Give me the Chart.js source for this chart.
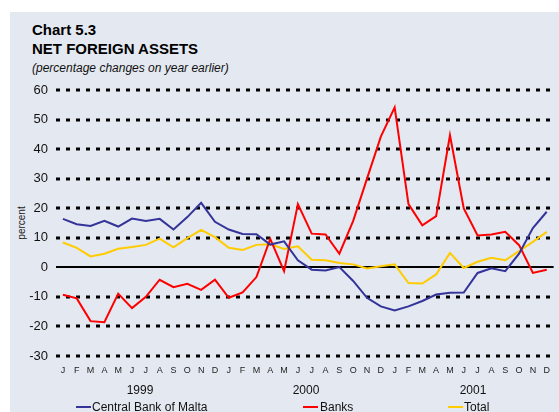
<!DOCTYPE html>
<html>
<head>
<meta charset="utf-8">
<script src="https://cdn.jsdelivr.net/npm/chart.js@4/dist/chart.umd.min.js"></script>
<style>
  body { margin: 0; background: #fff; }
  #wrap { position: relative; width: 559px; height: 412px; overflow: hidden; font-family: "Liberation Sans", Arial, sans-serif; color: #000; }
  #panel { position: absolute; left: 10px; top: 12px; width: 549px; height: 400px; background: #e4e8f0; }
  #chart { position: absolute; left: 0; top: 0; }
  .txt { position: absolute; white-space: nowrap; line-height: 1; }
  .title { left: 32px; font-size: 15px; font-weight: bold; }
  .sub { left: 32px; font-size: 12px; font-style: italic; color: #111; }
  .year { font-size: 12px; width: 60px; text-align: center; color: #111; }
  .leg { font-size: 12px; color: #111; }
  .legline { position: absolute; height: 2px; width: 15px; }
  #percent { left: 22px; top: 223px; font-size: 10px; color: #222; transform: translate(-50%, -50%) rotate(-90deg); }
</style>
</head>
<body>
<div id="wrap">
  <div id="panel"></div>
  <div class="txt title" style="top:22px">Chart 5.3</div>
  <div class="txt title" style="top:41px">NET FOREIGN ASSETS</div>
  <div class="txt sub" style="top:62px">(percentage changes on year earlier)</div>
  <div class="txt" id="percent">percent</div>
  <canvas id="chart" width="559" height="412"></canvas>
  <div class="txt year" style="left:110px;top:384px">1999</div>
  <div class="txt year" style="left:276px;top:384px">2000</div>
  <div class="txt year" style="left:443px;top:384px">2001</div>
  <div class="legline" style="left:76px;top:406px;background:#333399"></div>
  <div class="txt leg" style="left:92px;top:401px">Central Bank of Malta</div>
  <div class="legline" style="left:303px;top:406px;background:#ff0000"></div>
  <div class="txt leg" style="left:320px;top:401px">Banks</div>
  <div class="legline" style="left:448px;top:406px;background:#ffcc00"></div>
  <div class="txt leg" style="left:464px;top:401px">Total</div>
</div>
<script>
const months = ["J", "F", "M", "A", "M", "J", "J", "A", "S", "O", "N", "D"];
const labels = [...months, ...months, ...months];

const centralBank = [
  16.4, 14.6, 14.0, 15.7, 13.8, 16.5, 15.7, 16.4, 12.8, 17.0, 21.8, 15.4,
  12.8, 11.3, 11.2, 7.7, 8.8, 2.4, -0.8, -1.1, 0.1, -4.6, -10.3, -13.2,
  -14.6, -13.2, -11.4, -9.2, -8.6, -8.5, -1.9, -0.3, -1.3, 4.6, 13.3, 18.8
];
const banks = [
  -9.3, -10.5, -18.2, -18.6, -8.9, -13.8, -10.0, -4.2, -6.7, -5.6, -7.6, -4.2,
  -10.3, -8.5, -3.3, 9.6, -1.3, 21.4, 11.4, 11.1, 4.6, 15.7, 30.0, 44.2,
  54.1, 21.4, 14.2, 17.3, 44.7, 19.9, 10.8, 11.1, 12.0, 7.5, -1.9, -0.8
];
const total = [
  8.4, 6.6, 3.7, 4.6, 6.3, 6.9, 7.6, 9.7, 6.8, 9.9, 12.7, 10.2,
  6.6, 5.9, 7.6, 7.8, 6.2, 7.1, 2.6, 2.4, 1.5, 1.0, -0.4, 0.4,
  1.0, -5.3, -5.5, -2.4, 4.9, -0.2, 1.9, 3.2, 2.4, 5.5, 8.6, 12.0
];

// dotted gridlines, solid zero line
const dashGrid = {
  id: "dashGrid",
  beforeDatasetsDraw(chart) {
    const { ctx, chartArea: area, scales: { y } } = chart;
    ctx.save();
    ctx.strokeStyle = "#000";
    y.ticks.forEach(t => {
      const py = Math.round(y.getPixelForValue(t.value));
      ctx.beginPath();
      if (t.value === 0) {
        ctx.setLineDash([]);
        ctx.lineWidth = 2;
      } else {
        ctx.setLineDash([4, 6]);
        ctx.lineWidth = 3;
      }
      ctx.moveTo(area.left, py);
      ctx.lineTo(area.right, py);
      ctx.stroke();
    });
    ctx.restore();
  }
};

const series = (label, data, color) => ({
  label: label,
  data: data,
  borderColor: color,
  backgroundColor: color,
  borderWidth: 2,
  pointRadius: 0,
  tension: 0,
  fill: false
});

new Chart(document.getElementById("chart"), {
  type: "line",
  data: {
    labels: labels,
    datasets: [
      series("Central Bank of Malta", centralBank, "#333399"),
      series("Banks", banks, "#ff0000"),
      series("Total", total, "#ffcc00")
    ]
  },
  options: {
    responsive: false,
    animation: false,
    events: [],
    layout: { padding: { top: 90, right: 3, bottom: 36, left: 0 } },
    plugins: { legend: { display: false }, tooltip: { enabled: false } },
    scales: {
      x: {
        offset: true,
        grid: { display: false, drawTicks: false },
        border: { display: false },
        ticks: {
          autoSkip: false, maxRotation: 0, padding: 9,
          color: "#222", font: { family: "Liberation Sans", size: 9 }
        },
        afterFit: s => { s.height = 20; }
      },
      y: {
        min: -30, max: 60,
        grid: { display: false, drawTicks: false },
        border: { display: false },
        ticks: {
          stepSize: 10, padding: 8,
          color: "#111", font: { family: "Liberation Sans", size: 13 }
        },
        afterFit: s => { s.width = 56; }
      }
    }
  },
  plugins: [dashGrid]
});
</script>
</body>
</html>
